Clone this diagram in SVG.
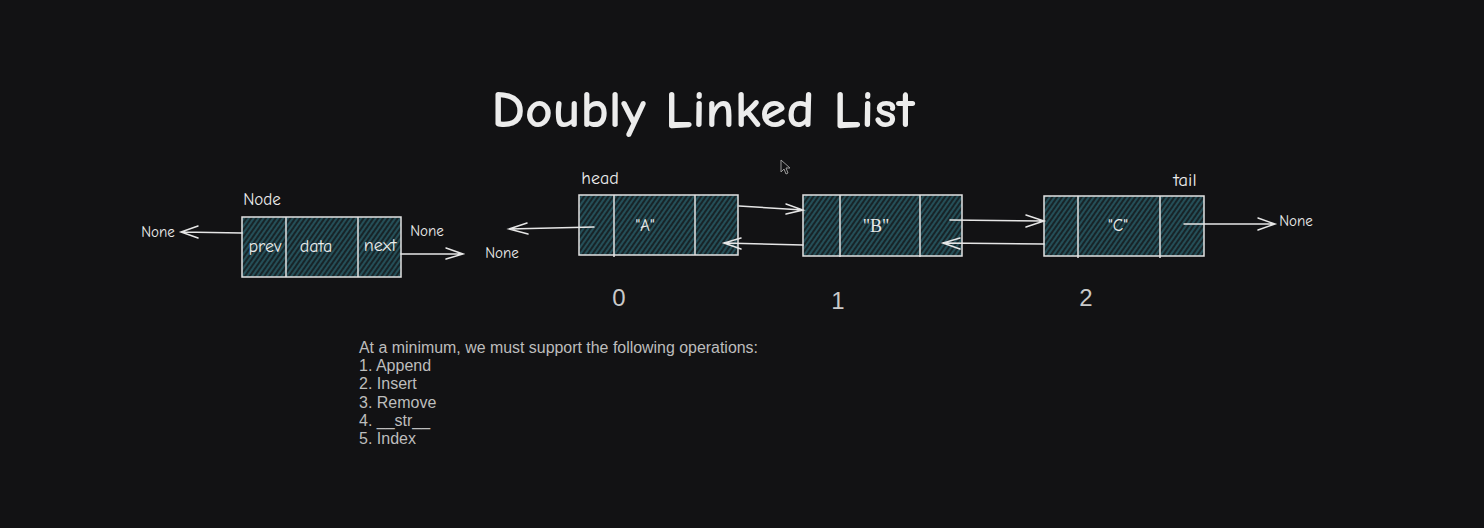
<svg xmlns="http://www.w3.org/2000/svg" width="1484" height="528" viewBox="0 0 1484 528">
<style>
.hand{font-family:"Comic Neue","Noto Sans","DejaVu Sans",sans-serif;fill:#ececec;font-weight:400}
.title{font-weight:700;font-size:52px}
.lbl{font-size:17px}
.box{fill:url(#hatch);stroke:#e2e2e2;stroke-width:1.5}
.div{stroke:#e2e2e2;stroke-width:1.5}
.ar{fill:none;stroke:#e6e6e6;stroke-width:1.5;stroke-linecap:round}
.num{font-family:"Liberation Sans",Arial,sans-serif;font-size:24px;fill:#c9c9c9}
.ops{font-family:"Liberation Sans",Arial,sans-serif;font-size:16px;fill:#bdbdbd}
</style>
<defs>
<pattern id="hatch" width="4" height="4" patternUnits="userSpaceOnUse" patternTransform="rotate(35)">
<rect width="4" height="4" fill="#172428"/>
<line x1="1" y1="0" x2="1" y2="4" stroke="#2c6672" stroke-width="1.3"/>
</pattern>
</defs>
<rect width="1484" height="528" fill="#121214"/>
<g id="title"><text class="hand title" x="703" y="127" text-anchor="middle" textLength="423" lengthAdjust="spacingAndGlyphs">Doubly Linked List</text></g>
<g id="cursor"><path d="M781 160 L781 172 L784 169 L786 174 L788 173 L786 168 L790 168 Z" fill="#121214" stroke="#9a9a9a" stroke-width="1"/></g>
<g id="node-template">
<rect class="box" x="242" y="217" width="159" height="60"/>
<line class="div" x1="286" y1="217" x2="286" y2="277"/>
<line class="div" x1="358" y1="217" x2="358" y2="277"/>
<text class="hand" x="265" y="252" text-anchor="middle" font-size="18">prev</text>
<text class="hand" x="316" y="252" text-anchor="middle" font-size="18">data</text>
<text class="hand" x="380" y="251" text-anchor="middle" font-size="18">next</text>
<text class="hand lbl" x="262" y="205" text-anchor="middle">Node</text>
</g>
<g id="node-a">
<rect class="box" x="579" y="195" width="159" height="60"/>
<line class="div" x1="614" y1="195" x2="614" y2="257"/>
<line class="div" x1="695" y1="195" x2="695" y2="255"/>
<text class="hand lbl" x="645" y="231" text-anchor="middle">"A"</text>
<text class="hand" x="600" y="184" text-anchor="middle" font-size="18">head</text>
</g>
<g id="node-b">
<rect class="box" x="803" y="195" width="159" height="61"/>
<line class="div" x1="840" y1="195" x2="840" y2="257"/>
<line class="div" x1="920" y1="195" x2="920" y2="257"/>
<text x="876" y="232" text-anchor="middle" font-family="Liberation Serif,serif" font-size="18" fill="#e8e8e8">"B"</text>
</g>
<g id="node-c">
<rect class="box" x="1044" y="196" width="160" height="60"/>
<line class="div" x1="1078" y1="196" x2="1078" y2="258"/>
<line class="div" x1="1160" y1="196" x2="1160" y2="258"/>
<text class="hand lbl" x="1118" y="231" text-anchor="middle">"C"</text>
<text class="hand" x="1185" y="186" text-anchor="middle" font-size="19">tail</text>
</g>
<g id="none-labels">
<text class="hand" x="158" y="237" text-anchor="middle" font-size="15">None</text>
<text class="hand" x="427" y="236" text-anchor="middle" font-size="15">None</text>
<text class="hand" x="502" y="258" text-anchor="middle" font-size="15">None</text>
<text class="hand" x="1296" y="226" text-anchor="middle" font-size="15">None</text>
</g>
<g id="connectors">
<path class="ar" d="M242 233 L181 232 M198 226 L181 232 L198 238"/>
<path class="ar" d="M401 254 L463 254 M446 248 L463 254 L446 259"/>
<path class="ar" d="M594 227 L509 229 M527 223 L509 229 L528 234"/>
<path class="ar" d="M739 206 L803 210 M786 204 L803 210 L786 214"/>
<path class="ar" d="M803 245 L724 243 M741 238 L724 243 L741 249"/>
<path class="ar" d="M950 220 L1044 221 M1026 215 L1044 221 L1026 227"/>
<path class="ar" d="M1044 244 L943 243 M960 238 L943 243 L960 249"/>
<path class="ar" d="M1184 224 L1275 224 M1258 218 L1275 224 L1258 230"/>
</g>
<g id="indices">
<text class="num" x="619" y="306" text-anchor="middle">0</text>
<text class="num" x="838" y="309" text-anchor="middle">1</text>
<text class="num" x="1086" y="306" text-anchor="middle">2</text>
</g>
<g id="operations">
<text class="ops" x="359" y="353" textLength="399" lengthAdjust="spacingAndGlyphs">At a minimum, we must support the following operations:</text>
<text class="ops" x="359" y="371">1. Append</text>
<text class="ops" x="359" y="389">2. Insert</text>
<text class="ops" x="359" y="408">3. Remove</text>
<text class="ops" x="359" y="426">4. __str__</text>
<text class="ops" x="359" y="444">5. Index</text>
</g>
</svg>
